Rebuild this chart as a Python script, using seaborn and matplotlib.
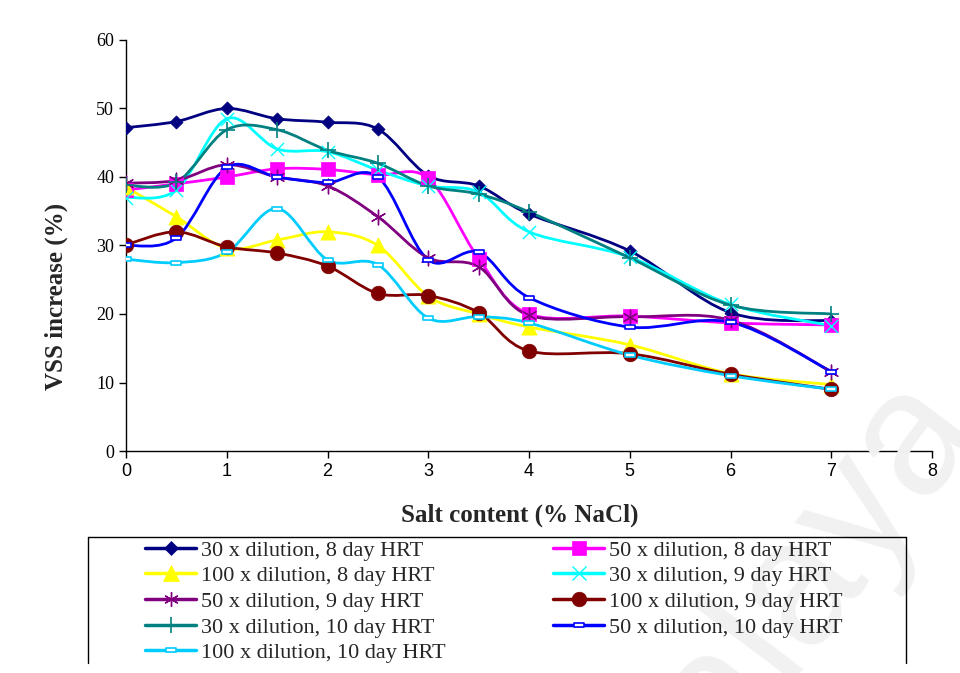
import numpy as np
import matplotlib
matplotlib.use("Agg")
import matplotlib.pyplot as plt
from matplotlib.path import Path
from matplotlib.patches import PathPatch
from matplotlib.lines import Line2D
import seaborn as sns

salt = [0, 0.5, 1, 1.5, 2, 2.5, 3, 3.5, 4, 5, 6, 7]

labels = [
    "30 x dilution, 8 day HRT",
    "50 x dilution, 8 day HRT",
    "100 x dilution, 8 day HRT",
    "30 x dilution, 9 day HRT",
    "50 x dilution, 9 day HRT",
    "100 x dilution, 9 day HRT",
    "30 x dilution, 10 day HRT",
    "50 x dilution, 10 day HRT",
    "100 x dilution, 10 day HRT",
]

d30_8 = [47.2, 48.1, 50.0, 48.5, 48.0, 47.0, 40.2, 38.7, 34.6, 29.2, 20.2, 19.0]
d50_8 = [38.1, 39.0, 40.0, 41.2, 41.1, 40.3, 39.8, 28.1, 20.0, 19.7, 18.7, 18.4]
d100_8 = [38.5, 34.2, 29.6, 30.8, 32.0, 30.0, 22.6, 20.0, 18.1, 15.5, 11.3, 9.7]
d30_9 = [37.0, 38.1, 48.5, 44.1, 43.7, 41.0, 38.7, 37.8, 32.0, 28.3, 21.4, 18.3]
d50_9 = [39.1, 39.5, 41.8, 40.0, 38.7, 34.2, 28.2, 26.9, 19.8, 19.6, 19.1, 11.6]
d100_9 = [30.1, 32.0, 29.8, 28.9, 27.0, 23.0, 22.7, 20.2, 14.6, 14.2, 11.2, 9.0]
d30_10 = [38.8, 39.2, 46.9, 46.9, 43.9, 42.0, 38.7, 37.5, 34.9, 28.2, 21.3, 20.0]
d50_10 = [30.0, 31.1, 41.4, 40.0, 39.2, 40.0, 27.9, 29.0, 22.4, 18.1, 18.8, 11.6]
d100_10 = [28.0, 27.5, 29.0, 35.4, 27.9, 27.2, 19.4, 19.6, 18.7, 14.0, 11.0, 9.0]

series = [d30_8, d50_8, d100_8, d30_9, d50_9, d100_9, d30_10, d50_10, d100_10]
colors = ["#000080", "#FF00FF", "#FFFF00", "#00FFFF", "#800080",
          "#800000", "#008080", "#0000FF", "#00CCFF"]

rect = Path([(-1, -0.4), (1, -0.4), (1, 0.4), (-1, 0.4), (-1, -0.4)],
            [Path.MOVETO, Path.LINETO, Path.LINETO, Path.LINETO, Path.CLOSEPOLY])
# marker, size (points^2), facecolor, edge width
styles = [
    ("D", 45, None, 0.5),
    ("s", 110, None, 0.5),
    ("^", 120, None, 0.5),
    ("x", 90, None, 1.0),
    ((6, 2, 0), 110, None, 1.0),
    ("o", 110, None, 0.5),
    ("+", 140, None, 1.2),
    (rect, 60, "white", 1.2),
    (rect, 60, "white", 1.2),
]

sns.set_theme(style="white")
plt.rcParams["font.family"] = ["Liberation Serif", "DejaVu Serif"]

W, H = 960, 673
fig = plt.figure(figsize=(9.6, 6.73), dpi=100)
ax = fig.add_axes([126 / W, 1 - 451 / H, 806 / W, 411 / H])

# faint watermark
fig.text(978 / W, 1 - 418 / H, "Malaya", rotation=53, ha="right", va="baseline",
         fontsize=128, color="#f1f1f1", zorder=0, rotation_mode="anchor",
         family=["Liberation Sans", "DejaVu Sans"])


def smooth_path(xs, ys):
    pts = np.column_stack([xs, ys]).astype(float)
    n = len(pts)
    verts = [pts[0]]
    codes = [Path.MOVETO]
    for i in range(n - 1):
        p0 = pts[i - 1] if i > 0 else pts[i]
        p1 = pts[i]
        p2 = pts[i + 1]
        p3 = pts[i + 2] if i + 2 < n else pts[i + 1]
        c1 = p1 + (p2 - p0) / 6.0
        c2 = p2 - (p3 - p1) / 6.0
        verts += [c1, c2, p2]
        codes += [Path.CURVE4] * 3
    return Path(verts, codes)


for k, (ys, col) in enumerate(zip(series, colors)):
    patch = PathPatch(smooth_path(salt, ys), facecolor="none", edgecolor=col,
                      lw=2.0, zorder=2 + k * 0.1)
    ax.add_patch(patch)
    mk, sz, fc, ew = styles[k]
    face = col if fc is None else fc
    sns.scatterplot(x=salt, y=ys, ax=ax, marker=mk, s=sz, color=face,
                    edgecolor=col, linewidth=ew, zorder=3 + k * 0.1)

ax.set_facecolor("none")
ax.set_xlim(0, 8)
ax.set_ylim(0, 60)
ax.set_xticks(range(0, 9))
ax.set_yticks(range(0, 61, 10))
for s in ["top", "right"]:
    ax.spines[s].set_visible(False)
for s in ["left", "bottom"]:
    ax.spines[s].set_color("black")
    ax.spines[s].set_linewidth(1.0)
ax.tick_params(axis="both", which="major", direction="out", length=5,
               width=1, colors="black", labelsize=13, left=True, bottom=True)
for t in ax.get_xticklabels():
    t.set_family(["Liberation Sans", "DejaVu Sans"])
ax.set_xlabel("Salt content (% NaCl)", fontsize=18, fontweight="bold")
ax.set_ylabel("VSS increase (%)", fontsize=18, fontweight="bold")
ax.xaxis.set_label_coords(0.489, -0.156)
ax.xaxis.label.set_va("center")
ax.yaxis.set_label_coords(-0.086, 0.377)
ax.yaxis.label.set_va("center")

handles = []
for k, col in enumerate(colors):
    mk, sz, fc, ew = styles[k]
    face = col if fc is None else fc
    handles.append(Line2D([0], [0], color=col, lw=2.5, marker=mk,
                          markersize=np.sqrt(sz), markerfacecolor=face,
                          markeredgecolor=col, markeredgewidth=ew))

col1 = [0, 2, 4, 6, 8]
col2 = [1, 3, 5, 7]
common = dict(loc="upper left", fontsize=16, frameon=False, handlelength=2.3,
              handletextpad=0.2, labelspacing=0.23, borderaxespad=0, borderpad=0)
fig.legend([handles[i] for i in col1], [labels[i] for i in col1],
           bbox_to_anchor=(145 / W, 1 - 540 / H), **common)
fig.legend([handles[i] for i in col2], [labels[i] for i in col2],
           bbox_to_anchor=(553 / W, 1 - 540 / H), **common)

# legend box (cropped at the bottom as in the reference)
box_kw = dict(color="black", lw=1.0, transform=fig.transFigure)
fig.add_artist(Line2D([88 / W, 906 / W], [1 - 537 / H, 1 - 537 / H], **box_kw))
fig.add_artist(Line2D([88 / W, 88 / W], [1 - 537 / H, 1 - 663 / H], **box_kw))
fig.add_artist(Line2D([906 / W, 906 / W], [1 - 537 / H, 1 - 663 / H], **box_kw))

fig.savefig("out.png", dpi=100, facecolor="white")
